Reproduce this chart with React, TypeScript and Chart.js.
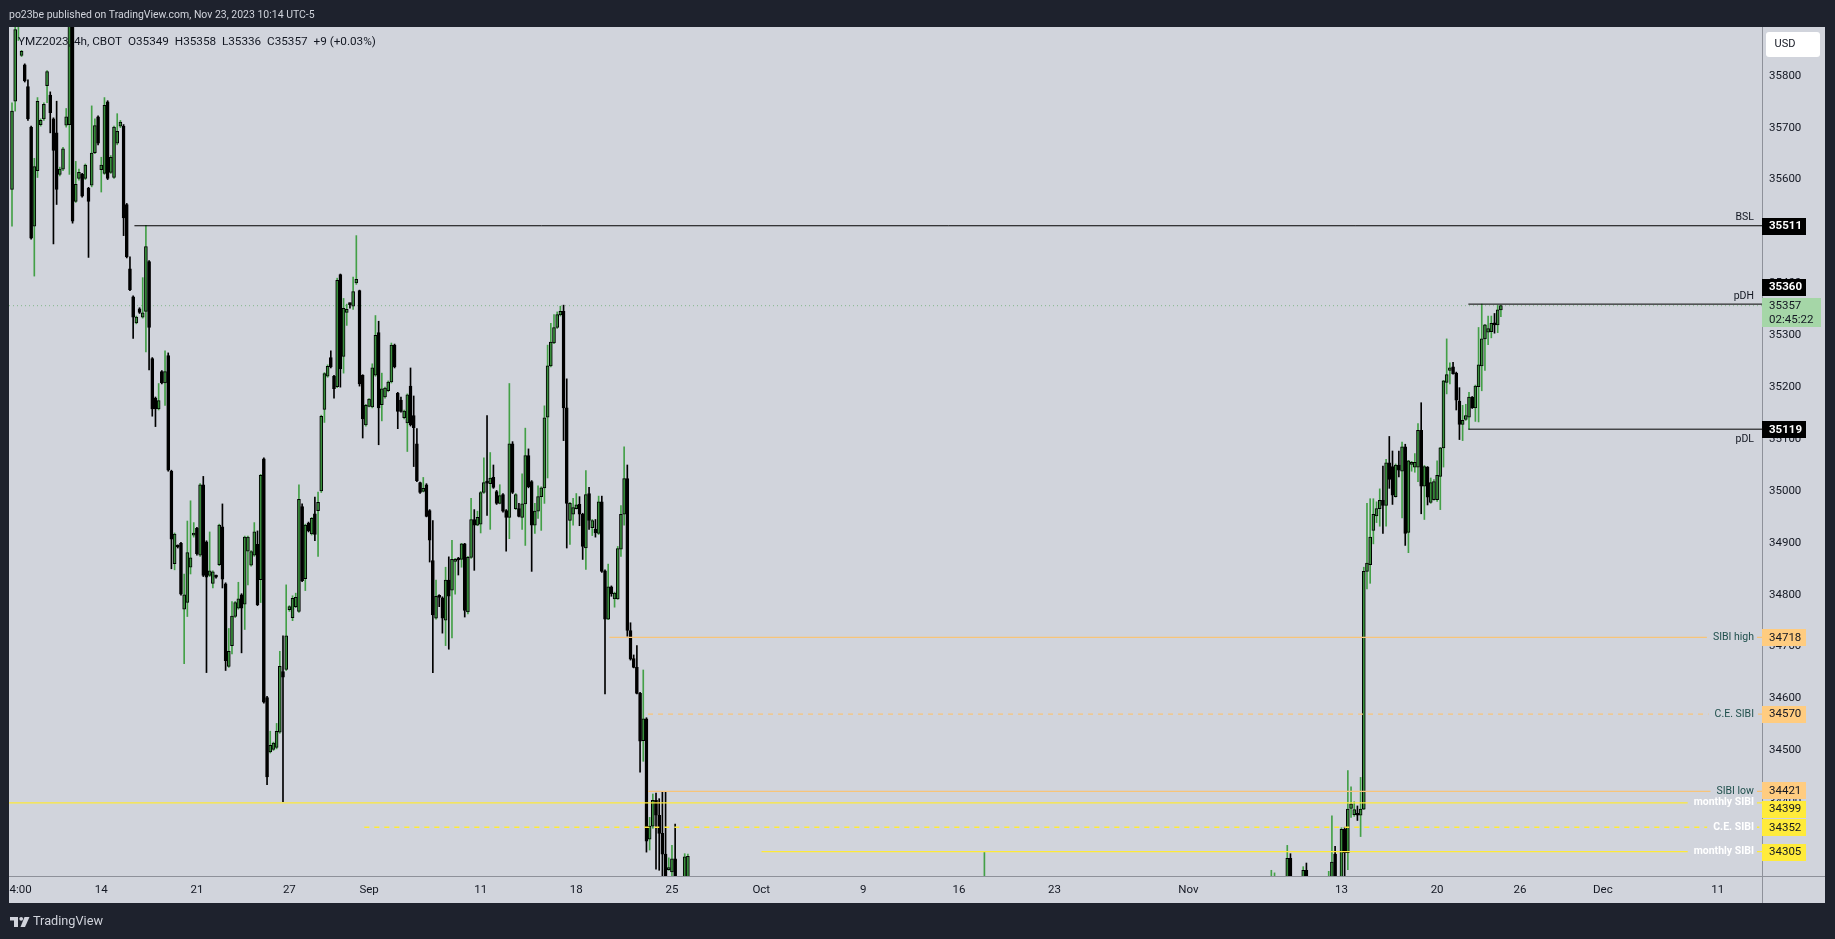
import React, { useEffect, useRef } from 'react';
import { Chart, registerables } from 'chart.js';

Chart.register(...registerables);

type OHLC = [number, number, number, number] | null; // open, high, low, close

// ---- candle data (4h bars, bar index = position in the series) ----
const barsFrom0: OHLC[] = [
  [35581,35748,35510,35732],[35751,35900,35732,35889],[35900,35970,35868,35950],[35839,35849,35837,35847],
  [35821,35823,35788,35790],[35779,35792,35714,35717],[35701,35703,35485,35487],[35510,35641,35414,35625],
  [35617,35758,35604,35751],[35706,35717,35703,35714],[35717,35748,35714,35745],[35781,35810,35748,35808],
  [35763,35769,35690,35729],[35717,35719,35476,35656],[35690,35751,35552,35581],[35610,35624,35607,35620],
  [35620,35662,35617,35659],[35705,35737,35701,35721],[35706,35950,35610,35920],[35920,35950,35516,35520],
  [35558,35635,35556,35591],[35602,35620,35599,35614],[35610,35612,35566,35568],[35602,35630,35600,35628],
  [35583,35585,35450,35558],[35589,35742,35586,35651],[35652,35717,35650,35704],[35721,35723,35667,35670],
  [35619,35643,35576,35628],[35612,35758,35610,35743],[35750,35752,35600,35602],[35614,35646,35612,35643],
  [35604,35703,35602,35701],[35670,35727,35667,35693],[35703,35714,35700,35711],[35703,35706,35492,35526],
  [35552,35554,35449,35451],[35428,35451,35386,35388],[35374,35376,35294,35335],[35324,35337,35322,35335],
  [35351,35353,35342,35344],[35335,35411,35333,35343],[35346,35512,35268,35471],[35442,35444,35233,35315],
  [35255,35257,35144,35158],[35179,35181,35124,35158],[35158,35207,35156,35174],[35230,35232,35206,35208],
  [35208,35270,35165,35230],[35261,35266,35038,35040],[35038,35040,34850,34907],[34860,34919,34848,34917],
  [34894,34896,34890,34892],[34899,34901,34799,34801],[34772,34840,34667,34800],[34785,34942,34758,34881],
  [34853,34981,34840,34871],[34915,34939,34911,34917],[34928,34930,34876,34879],[34876,35014,34874,35012],
  [35012,35028,34835,34837],[34902,34904,34650,34834],[34837,34921,34835,34846],[34822,34846,34813,34844],
  [34836,34838,34832,34834],[34858,34936,34856,34934],[34931,34975,34813,34830],[34821,34823,34654,34673],
  [34662,34735,34660,34691],[34702,34787,34686,34759],[34758,34787,34756,34785],[34774,34824,34772,34792],
  [34800,34802,34688,34774],[34782,34913,34733,34911],[34884,34913,34819,34911],[34857,34885,34855,34883],
  [34876,34939,34874,34921],[34897,34923,34779,34781],[34829,35032,34785,35030],[35062,35064,34591,34593],
  [34602,34604,34434,34449],[34497,34537,34495,34510],[34502,34516,34500,34514],[34506,34552,34503,34537],
  [34535,34691,34533,34662],[34652,34721,34401,34641],[34656,34819,34654,34721],[34771,34779,34768,34777],
  [34756,34798,34750,34793],[34777,34803,34775,34795],[34768,35012,34766,34984],[34970,34975,34825,34827],
  [34831,34936,34808,34934],[34938,34940,34921,34923],[34917,34949,34915,34947],[34956,34988,34904,34916],
  [34962,34998,34874,34978],[35000,35146,34997,35144],[35157,35228,35132,35226],[35221,35243,35219,35240],
  [35257,35270,35237,35239],[35221,35223,35179,35197],[35201,35410,35199,35406],
];

const barsFrom103: OHLC[] = [
  [35417,35418,35200,35235],[35259,35371,35227,35352],[35344,35360,35319,35350],[35360,35362,35352,35359],
  [35356,35412,35350,35384],[35401,35492,35398,35408],[35386,35387,35202,35206],[35223,35224,35102,35139],
  [35127,35167,35125,35165],[35163,35178,35162,35177],[35162,35245,35160,35237],[35223,35338,35221,35300],
  [35305,35327,35089,35160],[35166,35227,35135,35197],[35181,35200,35179,35198],[35193,35212,35191,35210],
  [35210,35285,35208,35281],[35281,35283,35237,35239],[35188,35190,35120,35153],[35175,35181,35152,35153],
  [35141,35156,35139,35154],[35131,35187,35076,35185],[35202,35237,35125,35127],[35145,35183,35047,35122],
  [35091,35120,35018,35020],[35016,35017,34995,34997],[34999,35026,34998,35005],[35012,35014,34950,34951],
  [34962,34964,34863,34905],[34866,34943,34650,34761],[34755,34828,34753,34797],[34798,34800,34777,34795],
  [34794,34796,34726,34755],[34751,34853,34702,34828],[34828,34873,34695,34797],[34809,34905,34717,34868],
  [34864,34870,34801,34868],[34870,34872,34838,34867],[34868,34899,34853,34898],[34898,34899,34757,34770],
  [34767,34874,34763,34872],[34872,34986,34870,34945],[34945,34964,34847,34934],[34934,34961,34933,34949],
  [34936,34999,34919,34997],[34997,35064,34995,35016],[35016,35145,34953,35015],[35014,35074,34926,35025],
  [35026,35050,35005,35007],[34999,35001,34974,34976],[34976,35012,34975,34991],[34993,34995,34959,34961],
  [34962,34964,34884,34949],[34949,35207,34908,35091],[35091,35095,34995,34997],[34966,34995,34964,34993],
  [34966,34976,34950,34951],[34949,35033,34926,34975],[34975,35121,34895,35068],[35068,35081,35006,35008],
  [35018,35020,34845,34934],[34934,34976,34918,34961],[34961,35010,34947,34989],[34989,35008,34924,35006],
  [35006,35164,34976,35141],[35142,35281,35025,35241],[35241,35323,35239,35287],[35285,35340,35284,35315],
  [35315,35345,35313,35340],[35339,35356,35337,35346],[35346,35358,35097,35160],[35160,35216,34890,34976],
  [34943,34978,34897,34976],[34955,34986,34934,34968],[34966,34995,34965,34973],[34974,34989,34933,34955],
  [34955,34957,34868,34893],[34890,35039,34849,34993],[34995,35007,34926,34943],[34929,34945,34914,34943],
  [34926,34945,34911,34919],[34918,34990,34916,34979],[34979,34990,34843,34845],[34846,34848,34609,34753],
  [34753,34859,34752,34815],[34815,34817,34797,34802],[34792,34805,34776,34803],[34792,34893,34791,34889],
  [34888,34972,34874,34955],[34955,35085,34934,35024],[35024,35050,34720,34731],[34731,34746,34674,34676],
  [34677,34684,34659,34660],[34660,34702,34609,34610],[34610,34612,34458,34518],[34519,34655,34479,34561],
  [34561,34563,34304,34325],[34329,34371,34308,34354],[34354,34416,34350,34404],[34404,34418,34271,34375],
  [34375,34407,34269,34340],[34340,34421,34250,34300],[34300,34421,34200,34230],[34270,34293,34269,34274],
  [34266,34317,34240,34291],[34291,34358,34200,34220],null,null,
  [34220,34301,34200,34295],[34240,34300,34230,34296],
];

// the only October bar that reaches into the visible price range
const barsFrom305: OHLC[] = [[34150,34305,34120,34200]];

const barsFrom395: OHLC[] = [
  [34180,34269,34150,34230],[34200,34264,34170,34240],null,null,null,
  [34220,34317,34200,34292],[34292,34301,34210,34230],null,null,null,
  [34230,34276,34210,34269],[34269,34283,34200,34220],null,null,null,null,null,null,
  [34200,34267,34180,34240],[34200,34374,34180,34285],[34300,34315,34180,34200],null,
  [34240,34351,34220,34348],[34348,34352,34250,34303],[34303,34461,34270,34387],[34388,34430,34371,34397],
  [34376,34401,34373,34386],[34377,34393,34365,34375],[34375,34448,34334,34387],[34387,34853,34386,34845],
  [34845,34976,34811,34861],[34858,34985,34822,34911],[34924,34985,34898,34955],[34952,34979,34939,34966],
  [34966,35004,34932,34982],[34982,35048,34918,34972],[34972,35061,34932,35054],[35054,35105,35005,35022],
  [35047,35077,34974,34992],[34989,35052,34988,35050],[35050,35077,35027,35040],[35038,35094,34948,35085],
  [35085,35090,34895,34918],[34920,35059,34881,35058],[35051,35057,35038,35055],[35046,35072,35036,35055],
  [35046,35130,35018,35117],[35117,35170,34956,35009],[35009,35049,34945,35047],[35046,35047,34973,34988],
  [34978,35025,34976,35016],[34983,35022,34982,35018],[34983,35058,34980,35030],[35028,35084,34964,35083],
  [35083,35213,35046,35212],[35209,35293,35187,35224],[35232,35247,35206,35237],[35239,35248,35225,35226],
  [35227,35229,35156,35175],[35173,35199,35099,35128],[35128,35165,35097,35136],[35138,35167,35136,35145],
  [35142,35190,35119,35181],[35181,35182,35159,35160],[35160,35204,35134,35202],[35201,35315,35133,35243],
  [35241,35360,35193,35293],[35293,35321,35232,35320],[35306,35337,35282,35313],[35307,35337,35295,35323],
  [35324,35342,35304,35320],[35320,35358,35305,35349],[35349,35358,35336,35357],
];

const segmentStarts = [0, 103, 305, 395];
const segmentBars = [barsFrom0, barsFrom103, barsFrom305, barsFrom395];

// ---- axes ----
const xTickIdx = [2.7, 28, 58, 87, 112, 147, 177, 207, 235, 267, 297, 327, 369, 417, 447, 473, 499, 535];
const xTickText = ['4:00', '14', '21', '27', 'Sep', '11', '18', '25', 'Oct', '9', '16', '23', 'Nov', '13', '20', '26', 'Dec', '11'];
const priceTicks = [34300, 34400, 34500, 34600, 34700, 34800, 34900, 35000, 35100, 35200, 35300, 35400, 35500, 35600, 35700, 35800];
const X_MIN = -0.94, X_MAX = 548.9, Y_MIN = 34258, Y_MAX = 35894;

// ---- horizontal levels ----
const levelValues = [35511, 35360, 35119, 34718, 34570, 34421, 34399, 34352, 34305];
const levelNames = ['BSL', 'pDH', 'pDL', 'SIBI high', 'C.E. SIBI', 'SIBI low', 'monthly SIBI', 'C.E. SIBI', 'monthly SIBI'];
const levelStarts = [38.4, 456.8, 456.8, 187.4, 199.5, 199.5, -1, 110.5, 235.1];

const lastPrice = 35357;
const countdown = '02:45:22';
const legendText = 'YMZ2023, 4h, CBOT  O35349  H35358  L35336  C35357  +9 (+0.03%)';
const headerText = 'po23be published on TradingView.com, Nov 23, 2023 10:14 UTC-5';

// ---- styles ----
const W = 1835, H = 939;
const FRAME = '#1e222d';
const PANE = '#d1d4dc';
const SEP = '#8e919a';
const TEXT = '#131722';
const UP_BODY = '#388e3c';
const UP_WICK = '#43a047';
const ORANGE_LINE = '#f7c47a';
const ORANGE_BOX = '#ffcc80';
const YELLOW = '#ffeb3b';
const YELLOW_LINE = '#fde93a';
const FONT = 'Roboto, "Open Sans", sans-serif';

type LevelStyle = { line: string; dash: number[]; width: number; text: string; bold: boolean; place: 'above' | 'below' | 'center'; box: string; boxText: string; boxBold: boolean; shift: number };
const black: Omit<LevelStyle, 'place' | 'shift'> = { line: '#000000', dash: [], width: 1, text: TEXT, bold: false, box: '#000000', boxText: '#ffffff', boxBold: true };
const orange = (dash: number[]): Omit<LevelStyle, 'place' | 'shift'> => ({ line: ORANGE_LINE, dash, width: 1.2, text: '#1f4f4c', bold: false, box: ORANGE_BOX, boxText: TEXT, boxBold: false });
const yellow = (dash: number[]): Omit<LevelStyle, 'place' | 'shift'> => ({ line: YELLOW_LINE, dash, width: 1.4, text: '#ffffff', bold: true, box: YELLOW, boxText: TEXT, boxBold: false });
const levelStyles: LevelStyle[] = [
  { ...black, place: 'above', shift: 0 },
  { ...black, place: 'above', shift: -17 },
  { ...black, place: 'below', shift: 0 },
  { ...orange([]), place: 'center', shift: 0 },
  { ...orange([5, 5]), place: 'center', shift: 0 },
  { ...orange([]), place: 'center', shift: -1 },
  { ...yellow([]), place: 'center', shift: 6 },
  { ...yellow([5, 5]), place: 'center', shift: 0 },
  { ...yellow([]), place: 'center', shift: 0 },
];

function fitFont(ctx: CanvasRenderingContext2D, text: string, weight: string, target: number) {
  ctx.font = `${weight} 20px ${FONT}`;
  const w = ctx.measureText(text).width;
  ctx.font = `${weight} ${(20 * target / w).toFixed(2)}px ${FONT}`;
}

export default function App() {
  const ref = useRef<HTMLCanvasElement>(null);

  useEffect(() => {
    document.body.style.margin = '0';
    const candles: { i: number; o: number; h: number; l: number; c: number }[] = [];
    segmentBars.forEach((arr, s) => {
      arr.forEach((r, k) => {
        if (r) candles.push({ i: segmentStarts[s] + k, o: r[0], h: r[1], l: r[2], c: r[3] });
      });
    });

    const levelDatasets: any[] = levelValues.map((v, k) => ({
      type: 'line',
      data: [{ x: levelStarts[k], y: v }, { x: X_MAX, y: v }],
      borderColor: levelStyles[k].line,
      borderWidth: levelStyles[k].width,
      borderDash: levelStyles[k].dash,
      pointRadius: 0,
      fill: false,
      tension: 0,
    }));

    const framePlugin = {
      id: 'tvFrame',
      beforeDraw(chart: any) {
        const ctx = chart.ctx as CanvasRenderingContext2D;
        const ca = chart.chartArea;
        const ys = chart.scales.y, xs = chart.scales.x;
        ctx.save();
        ctx.fillStyle = FRAME;
        ctx.fillRect(0, 0, W, H);
        ctx.fillStyle = PANE;
        ctx.fillRect(ca.left, ca.top, ys.right - ca.left, xs.bottom - ca.top);
        ctx.restore();
      },
      afterDatasetsDraw(chart: any) {
        const ctx = chart.ctx as CanvasRenderingContext2D;
        const ys = chart.scales.y;
        const ca = chart.chartArea;
        ctx.save();
        ctx.textBaseline = 'middle';
        levelValues.forEach((v, k) => {
          const st = levelStyles[k];
          const y = ys.getPixelForValue(v);
          ctx.font = `${st.bold ? 'bold ' : ''}10.5px ${FONT}`;
          const tw = ctx.measureText(levelNames[k]).width;
          const right = ca.right - 8;
          let ty = y;
          if (st.place === 'above') ty = y - 8;
          if (st.place === 'below') ty = y + 10;
          if (st.place === 'center') {
            ctx.fillStyle = PANE;
            ctx.fillRect(right - tw - 6, y - 2, tw + 9, 4);
          }
          ctx.fillStyle = st.text;
          ctx.textAlign = 'right';
          ctx.fillText(levelNames[k], right, ty);
        });
        // legend
        ctx.fillStyle = TEXT;
        ctx.textAlign = 'left';
        fitFont(ctx, legendText, 'normal', 358);
        ctx.fillText(legendText, 18, 42);
        ctx.restore();
      },
      afterDraw(chart: any) {
        const ctx = chart.ctx as CanvasRenderingContext2D;
        const ys = chart.scales.y, xs = chart.scales.x;
        const ca = chart.chartArea;
        ctx.save();
        // separators
        ctx.fillStyle = SEP;
        ctx.fillRect(ca.right, ca.top, 1, xs.bottom - ca.top);
        ctx.fillRect(ca.left, ca.bottom, ys.right - ca.left, 1);
        // price boxes
        ctx.textBaseline = 'middle';
        ctx.textAlign = 'left';
        levelValues.forEach((v, k) => {
          const st = levelStyles[k];
          const y = ys.getPixelForValue(v) + st.shift;
          ctx.fillStyle = st.box;
          ctx.fillRect(ca.right, Math.round(y - 8), 44, 17);
          ctx.fillStyle = st.boxText;
          ctx.font = `${st.boxBold ? 'bold ' : ''}11.5px ${FONT}`;
          ctx.fillText(String(v), ca.right + 7, y + 0.5);
        });
        // last price box
        const ly = ys.getPixelForValue(lastPrice) + 7;
        ctx.fillStyle = '#a5d6a7';
        ctx.fillRect(ca.right, Math.round(ly - 14.5), 59, 29);
        ctx.fillStyle = TEXT;
        ctx.font = `11.5px ${FONT}`;
        ctx.fillText(String(lastPrice), ca.right + 7, ly - 7);
        ctx.fillText(countdown, ca.right + 7, ly + 7);
        // USD box
        ctx.fillStyle = '#ffffff';
        ctx.beginPath();
        (ctx as any).roundRect(ca.right + 4, 32, 54, 25, 3);
        ctx.fill();
        ctx.fillStyle = TEXT;
        ctx.font = `11px ${FONT}`;
        ctx.textAlign = 'center';
        ctx.fillText('USD', ca.right + 23, 44.5);
        // header
        ctx.textAlign = 'left';
        ctx.fillStyle = '#d1d4dc';
        fitFont(ctx, headerText, 'normal', 306);
        ctx.fillText(headerText, 9, 15);
        // footer logo
        ctx.fillStyle = '#d1d4dc';
        ctx.fillRect(10, 917, 8, 3.5);
        ctx.fillRect(14, 917, 4, 10);
        ctx.beginPath();
        ctx.arc(21.2, 918.8, 1.9, 0, Math.PI * 2);
        ctx.fill();
        ctx.beginPath();
        ctx.moveTo(24.5, 917); ctx.lineTo(29.5, 917); ctx.lineTo(25, 927); ctx.lineTo(20.5, 927);
        ctx.closePath();
        ctx.fill();
        fitFont(ctx, 'TradingView', 'normal', 70);
        ctx.fillText('TradingView', 33, 922);
        ctx.restore();
      },
    };

    const chart = new Chart(ref.current as HTMLCanvasElement, {
      type: 'bar',
      data: {
        datasets: [
          ...levelDatasets,
          {
            type: 'bar',
            data: candles.map((c) => ({ x: c.i, y: [c.o, c.c], up: c.c >= c.o })),
            backgroundColor: (ctx: any) => (ctx.raw && ctx.raw.up ? UP_BODY : '#000000'),
            borderColor: '#000000',
            borderWidth: 1,
            borderSkipped: false,
            barThickness: 3,
            minBarLength: 2,
            grouped: false,
          },
          {
            type: 'bar',
            data: candles.map((c) => ({ x: c.i, y: [c.l, c.h], up: c.c >= c.o })),
            backgroundColor: (ctx: any) => (ctx.raw && ctx.raw.up ? UP_WICK : '#000000'),
            borderWidth: 0,
            barThickness: 1,
            minBarLength: 1,
            grouped: false,
          },
          {
            type: 'line',
            data: [{ x: X_MIN, y: lastPrice }, { x: X_MAX, y: lastPrice }],
            borderColor: 'rgba(67,160,71,0.55)',
            borderWidth: 1,
            borderDash: [1, 3],
            pointRadius: 0,
            fill: false,
          },
        ] as any,
      },
      options: {
        animation: false,
        responsive: false,
        devicePixelRatio: 1,
        events: [],
        layout: { padding: { left: 9, top: 27, right: 10, bottom: 36 } },
        plugins: { legend: { display: false }, tooltip: { enabled: false }, title: { display: false } },
        scales: {
          x: {
            type: 'linear',
            min: X_MIN,
            max: X_MAX,
            offset: false,
            position: 'bottom',
            grid: { display: false, drawTicks: false },
            border: { display: false },
            afterBuildTicks: (s: any) => { s.ticks = xTickIdx.map((v) => ({ value: v })); },
            afterFit: (s: any) => { s.height = 27; },
            ticks: {
              autoSkip: false,
              maxRotation: 0,
              color: TEXT,
              padding: 7,
              font: { size: 11.5, family: FONT },
              callback: (_v: any, idx: number) => xTickText[idx],
            },
          },
          y: {
            type: 'linear',
            position: 'right',
            min: Y_MIN,
            max: Y_MAX,
            grid: { display: false, drawTicks: false },
            border: { display: false },
            afterBuildTicks: (s: any) => { s.ticks = priceTicks.map((v) => ({ value: v })); },
            afterFit: (s: any) => { s.width = 63; },
            ticks: {
              color: TEXT,
              padding: 7,
              crossAlign: 'near',
              font: { size: 11.5, family: FONT },
              callback: (v: any) => String(v),
            },
          },
        },
      } as any,
      plugins: [framePlugin],
    });
    return () => chart.destroy();
  }, []);

  return (
    <div style={{ position: 'fixed', left: 0, top: 0, width: W, height: H }}>
      <canvas ref={ref} width={W} height={H} style={{ display: 'block', width: W, height: H }} />
    </div>
  );
}
